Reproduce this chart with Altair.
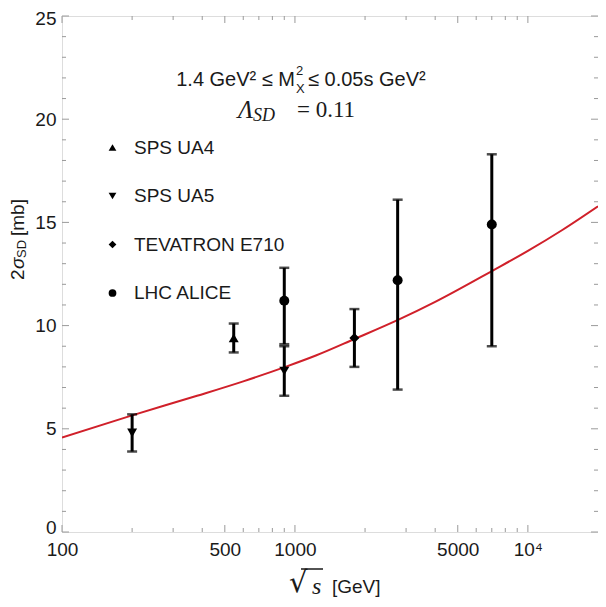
import altair as alt
import pandas as pd

# ---------------- data ----------------
exp_names = ["SPS UA4", "SPS UA5", "SPS UA5", "TEVATRON E710", "LHC ALICE", "LHC ALICE", "LHC ALICE"]
exp_sqrt_s = [546, 200, 900, 1800, 900, 2760, 7000]
exp_sigma = [9.4, 4.8, 7.8, 9.4, 11.2, 12.2, 14.9]
exp_low = [8.7, 3.9, 6.6, 8.0, 9.1, 6.9, 9.0]
exp_high = [10.1, 5.7, 9.0, 10.8, 12.8, 16.1, 18.3]

legend_order = ["SPS UA4", "SPS UA5", "TEVATRON E710", "LHC ALICE"]
legend_shapes = ["triangle-up", "triangle-down", "diamond", "circle"]

curve_sqrt_s = [100, 200, 380, 600, 910, 1230, 1800, 2800, 4000, 7100, 10000, 14000, 20000]
curve_sigma = [4.58, 5.65, 6.60, 7.30, 8.00, 8.55, 9.35, 10.30, 11.15, 12.68, 13.62, 14.62, 15.78]

x_major = [100, 500, 1000, 5000, 10000]
x_minor = [200, 300, 400, 600, 700, 800, 900, 2000, 3000, 4000, 6000, 7000, 8000, 9000]
y_major = [0, 5, 10, 15, 20, 25]
y_minor = [v for v in range(1, 25) if v % 5 != 0]

W, H = 536, 516
SANS = "Liberation Sans"
SERIF = "Liberation Serif"
TXT = "#1a1a1a"
TICK = "#9a9a9a"

df_exp = pd.DataFrame({"exp": exp_names, "s": exp_sqrt_s, "sigma": exp_sigma,
                       "low": exp_low, "high": exp_high})
df_curve = pd.DataFrame({"s": curve_sqrt_s, "sigma": curve_sigma})

xscale = alt.Scale(type="log", domain=[100, 20000], nice=False)
yscale = alt.Scale(domain=[0, 25], nice=False, zero=False)
xaxis = alt.Axis(values=x_major, ticks=False, domain=False, grid=False, title=None,
                 labelExpr="datum.value == 10000 ? '10⁴' : format(datum.value, 'd')",
                 labelFontSize=19, labelFont=SANS, labelColor=TXT, labelPadding=8,
                 labelOverlap=False, labelFlush=False)
yaxis = alt.Axis(values=y_major, ticks=False, domain=False, grid=False, title=None,
                 labelFontSize=19, labelFont=SANS, labelColor=TXT, labelPadding=6,
                 labelFlush=False,
                 labelOffset={"condition": [{"test": "datum.value == 0", "value": -5},
                                            {"test": "datum.value == 25", "value": 2}],
                              "value": 0})


def X(field="s"):
    return alt.X(f"{field}:Q", scale=xscale, axis=xaxis)


def Y(field="sigma"):
    return alt.Y(f"{field}:Q", scale=yscale, axis=yaxis)


curve = alt.Chart(df_curve).mark_line(color="#d0202a", strokeWidth=2, interpolate="monotone",
                                      clip=True).encode(x=X(), y=Y())

bars = alt.Chart(df_exp).mark_rule(color="black", strokeWidth=3).encode(
    x=X(), y=Y("low"), y2="high:Q")
cap_lo = alt.Chart(df_exp).mark_tick(color="black", orient="horizontal", size=10,
                                     thickness=2.5).encode(x=X(), y=Y("low"))
cap_hi = alt.Chart(df_exp).mark_tick(color="black", orient="horizontal", size=10,
                                     thickness=2.5).encode(x=X(), y=Y("high"))

points = alt.Chart(df_exp).mark_point(filled=True, opacity=1, size=100, color="black").encode(
    x=X(), y=Y(),
    shape=alt.Shape("exp:N", scale=alt.Scale(domain=legend_order, range=legend_shapes),
                    legend=alt.Legend(orient="none", legendX=41, legendY=122, title=None,
                                      labelFontSize=19, labelFont=SANS, labelColor=TXT,
                                      symbolSize=60, symbolFillColor="black",
                                      symbolStrokeWidth=0, rowPadding=28.5, labelOffset=12,
                                      padding=0)))

# inward frame ticks
df_xM = pd.DataFrame({"s": x_major})
df_xm = pd.DataFrame({"s": x_minor})
df_yM = pd.DataFrame({"sigma": y_major})
df_ym = pd.DataFrame({"sigma": y_minor})


def xticks(df, length):
    bot = alt.Chart(df).mark_rule(color=TICK, strokeWidth=1).encode(
        x=X(), y=alt.value(H), y2=alt.value(H - length))
    top = alt.Chart(df).mark_rule(color=TICK, strokeWidth=1).encode(
        x=X(), y=alt.value(0), y2=alt.value(length))
    return [bot, top]


def yticks(df, length):
    left = alt.Chart(df).mark_rule(color=TICK, strokeWidth=1).encode(
        y=Y(), x=alt.value(0), x2=alt.value(length))
    right = alt.Chart(df).mark_rule(color=TICK, strokeWidth=1).encode(
        y=Y(), x=alt.value(W), x2=alt.value(W - length))
    return [left, right]


def label(txt, x, y, **kw):
    base = dict(font=SANS, fontSize=19, color=TXT, align="left", baseline="middle")
    base.update(kw)
    return alt.Chart(pd.DataFrame({"t": [txt]})).mark_text(**base).encode(
        x=alt.value(x), y=alt.value(y), text="t:N")


texts = [
    # annotation line 1
    label("1.4 GeV² ≤ M", 233, 64, fontSize=20, align="right"),
    label("2", 234, 55, fontSize=13),
    label("X", 234, 73, fontSize=13),
    label("≤ 0.05s GeV²", 246, 64, fontSize=20),
    # annotation line 2
    label("Λ", 176, 94, font=SERIF, fontSize=25, fontStyle="italic"),
    label("SD", 191, 100, font=SERIF, fontSize=18, fontStyle="italic"),
    label("= 0.11", 235, 94, font=SERIF, fontSize=23),
    # x axis title
    label("√", 227, 567, font="DejaVu Sans", fontSize=29),
    label("s", 250, 571, font=SERIF, fontSize=24, fontStyle="italic"),
    label("[GeV]", 270, 571, fontSize=19),
    # y axis title (rotated)
    label("2", -44, 264, angle=270),
    label("σ", -44, 253, angle=270, fontStyle="italic"),
    label("SD", -40, 242, angle=270, fontSize=13),
    label("[mb]", -44, 220, angle=270),
]

overbar = alt.Chart(pd.DataFrame({"t": [0]})).mark_rule(color=TXT, strokeWidth=1.5).encode(
    x=alt.value(239), x2=alt.value(261), y=alt.value(553))

layers = ([curve] + xticks(df_xM, 7) + xticks(df_xm, 4) + yticks(df_yM, 7) + yticks(df_ym, 4)
          + [bars, cap_lo, cap_hi, points, overbar] + texts)

chart = alt.layer(*layers).properties(
    width=W, height=H,
    autosize=alt.AutoSizeParams(type="none"),
    padding={"left": 54, "top": 8, "right": 0, "bottom": 67},
).configure_view(stroke="#8f8f8f", strokeWidth=1.4).configure(background="white")

chart.save("out.html", embed_options={"renderer": "svg", "actions": False})
